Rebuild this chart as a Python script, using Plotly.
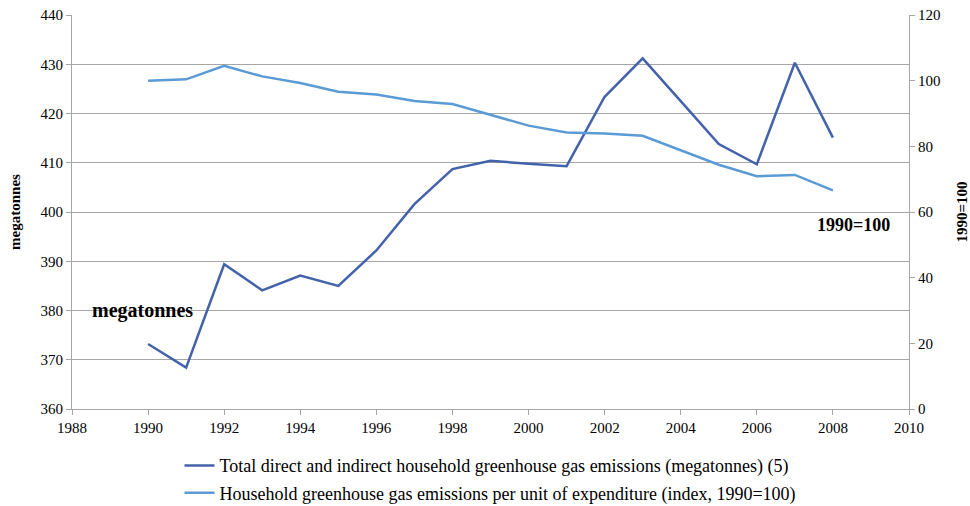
import plotly.graph_objects as go

years = list(range(1990, 2009))

# Total direct and indirect household GHG emissions, megatonnes
total_emissions = [373.2, 368.4, 389.4, 384.1, 387.1, 385.0, 392.2, 401.6, 408.7, 410.4,
                   409.8, 409.3, 423.4, 431.2, 422.5, 413.8, 409.7, 430.3, 415.1]

# Emissions per unit of expenditure, index 1990=100
per_expenditure_index = [100.0, 100.4, 104.5, 101.3, 99.3, 96.6, 95.8, 93.8, 92.9, 89.7,
                         86.3, 84.2, 83.9, 83.2, 78.7, 74.4, 70.9, 71.3, 66.6]

x_ticks = list(range(1988, 2011, 2))

FONT = "Liberation Serif"
DARK = "#4462AA"
LIGHT = "#5B9BD5"
GRID = "#A6A6A6"

fig = go.Figure()
fig.add_trace(go.Scatter(
    x=years, y=total_emissions, mode="lines", legendgroup="a",
    name="Total direct and indirect household greenhouse gas emissions (megatonnes) (5)",
    line=dict(color=DARK, width=2.5), yaxis="y"))
fig.add_trace(go.Scatter(
    x=years, y=per_expenditure_index, mode="lines", legendgroup="b",
    name="Household greenhouse gas emissions per unit of expenditure (index, 1990=100)",
    line=dict(color=LIGHT, width=2.5), yaxis="y2"))

tick_font = dict(family=FONT, size=15, color="#000000")

fig.update_layout(
    width=970, height=506,
    margin=dict(l=72, r=61, t=15, b=97, autoexpand=False),
    paper_bgcolor="white", plot_bgcolor="white",
    font=dict(family=FONT, size=14, color="#000000"),
    showlegend=True,
    legend=dict(orientation="v", x=0.5, xref="paper", xanchor="center",
                y=-0.097, yanchor="top", font=dict(size=18, family=FONT, color="#000000"),
                tracegroupgap=1, itemwidth=30),
    xaxis=dict(range=[1988, 2010], tickvals=x_ticks, showgrid=False,
               showline=True, linecolor=GRID, linewidth=1,
               ticks="outside", ticklen=5, tickcolor=GRID,
               tickfont=tick_font, zeroline=False),
    yaxis=dict(range=[360, 440], dtick=10, showgrid=True, gridcolor=GRID, gridwidth=1,
               showline=True, linecolor=GRID, linewidth=1,
               ticks="outside", ticklen=5, tickcolor=GRID,
               tickfont=tick_font, zeroline=False,
               title=dict(text="<b>megatonnes</b>", font=dict(family=FONT, size=15),
                          standoff=16)),
    yaxis2=dict(range=[0, 120], dtick=20, overlaying="y", side="right",
                showgrid=False, showline=True, linecolor=GRID, linewidth=1,
                ticks="outside", ticklen=5, tickcolor=GRID,
                tickfont=tick_font, zeroline=False,
                title=dict(text="<b>1990=100</b>", font=dict(family=FONT, size=15),
                           standoff=20)),
    annotations=[
        dict(text="<b>megatonnes</b>", x=1988.47, y=380.0, xref="x", yref="y",
             xanchor="left", yanchor="middle", showarrow=False,
             font=dict(size=20, family=FONT)),
        dict(text="<b>1990=100</b>", x=2008.55, y=56.0, xref="x", yref="y2",
             xanchor="center", yanchor="middle", showarrow=False,
             font=dict(size=18, family=FONT)),
    ],
)

fig.write_html("out.html")
